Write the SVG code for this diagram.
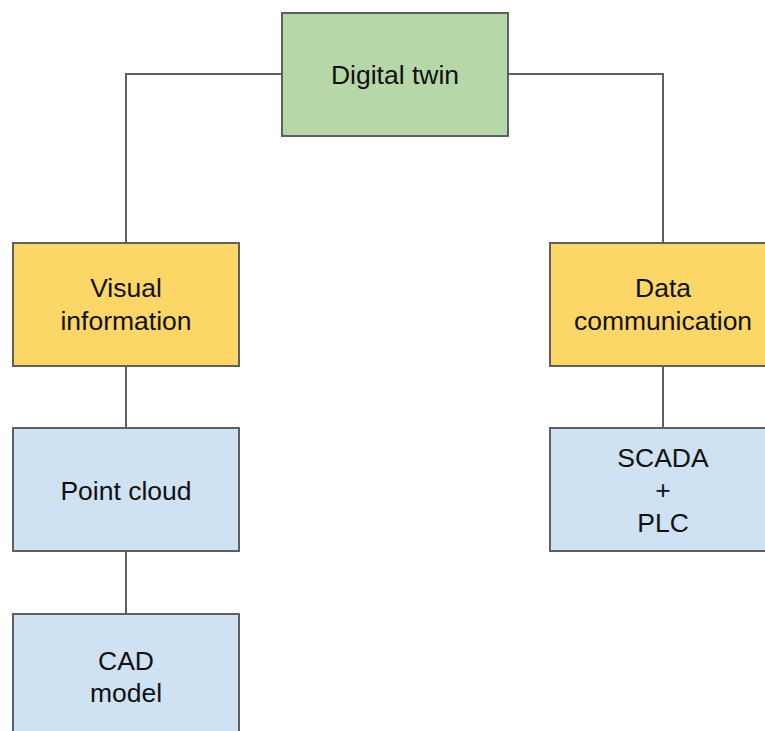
<svg xmlns="http://www.w3.org/2000/svg" width="765" height="731" viewBox="0 0 765 731">
  <style>
    .box { stroke: #5f5f5f; stroke-width: 2; }
    .root { fill: #b6d7a8; }
    .mid { fill: #fcd666; }
    .leaf { fill: #cfe2f3; }
    .link { fill: none; stroke: #5f5f5f; stroke-width: 2; }
    text { font-family: "Liberation Sans", Arial, sans-serif; font-size: 26.5px; fill: #111; text-anchor: middle; }
  </style>
  <rect width="765" height="731" fill="#ffffff"/>

  <g id="connectors">
    <polyline class="link" points="282,74 126,74 126,243"/>
    <polyline class="link" points="508,74 663,74 663,243"/>
    <line class="link" x1="126" y1="366" x2="126" y2="428"/>
    <line class="link" x1="126" y1="551" x2="126" y2="614"/>
    <line class="link" x1="663" y1="366" x2="663" y2="428"/>
  </g>

  <g id="digital-twin">
    <rect class="box root" x="282" y="13" width="226" height="123"/>
    <text x="395" y="84">Digital twin</text>
  </g>

  <g id="visual-information">
    <rect class="box mid" x="13" y="243" width="226" height="123"/>
    <text x="126" y="297">Visual</text>
    <text x="126" y="330">information</text>
  </g>

  <g id="data-communication">
    <rect class="box mid" x="550" y="243" width="226" height="123"/>
    <text x="663" y="297">Data</text>
    <text x="663" y="330">communication</text>
  </g>

  <g id="point-cloud">
    <rect class="box leaf" x="13" y="428" width="226" height="123"/>
    <text x="126" y="500">Point cloud</text>
  </g>

  <g id="scada-plc">
    <rect class="box leaf" x="550" y="428" width="226" height="123"/>
    <text x="663" y="467">SCADA</text>
    <text x="663" y="499">+</text>
    <text x="663" y="532">PLC</text>
  </g>

  <g id="cad-model">
    <rect class="box leaf" x="13" y="614" width="226" height="123"/>
    <text x="126" y="670">CAD</text>
    <text x="126" y="702">model</text>
  </g>
</svg>
